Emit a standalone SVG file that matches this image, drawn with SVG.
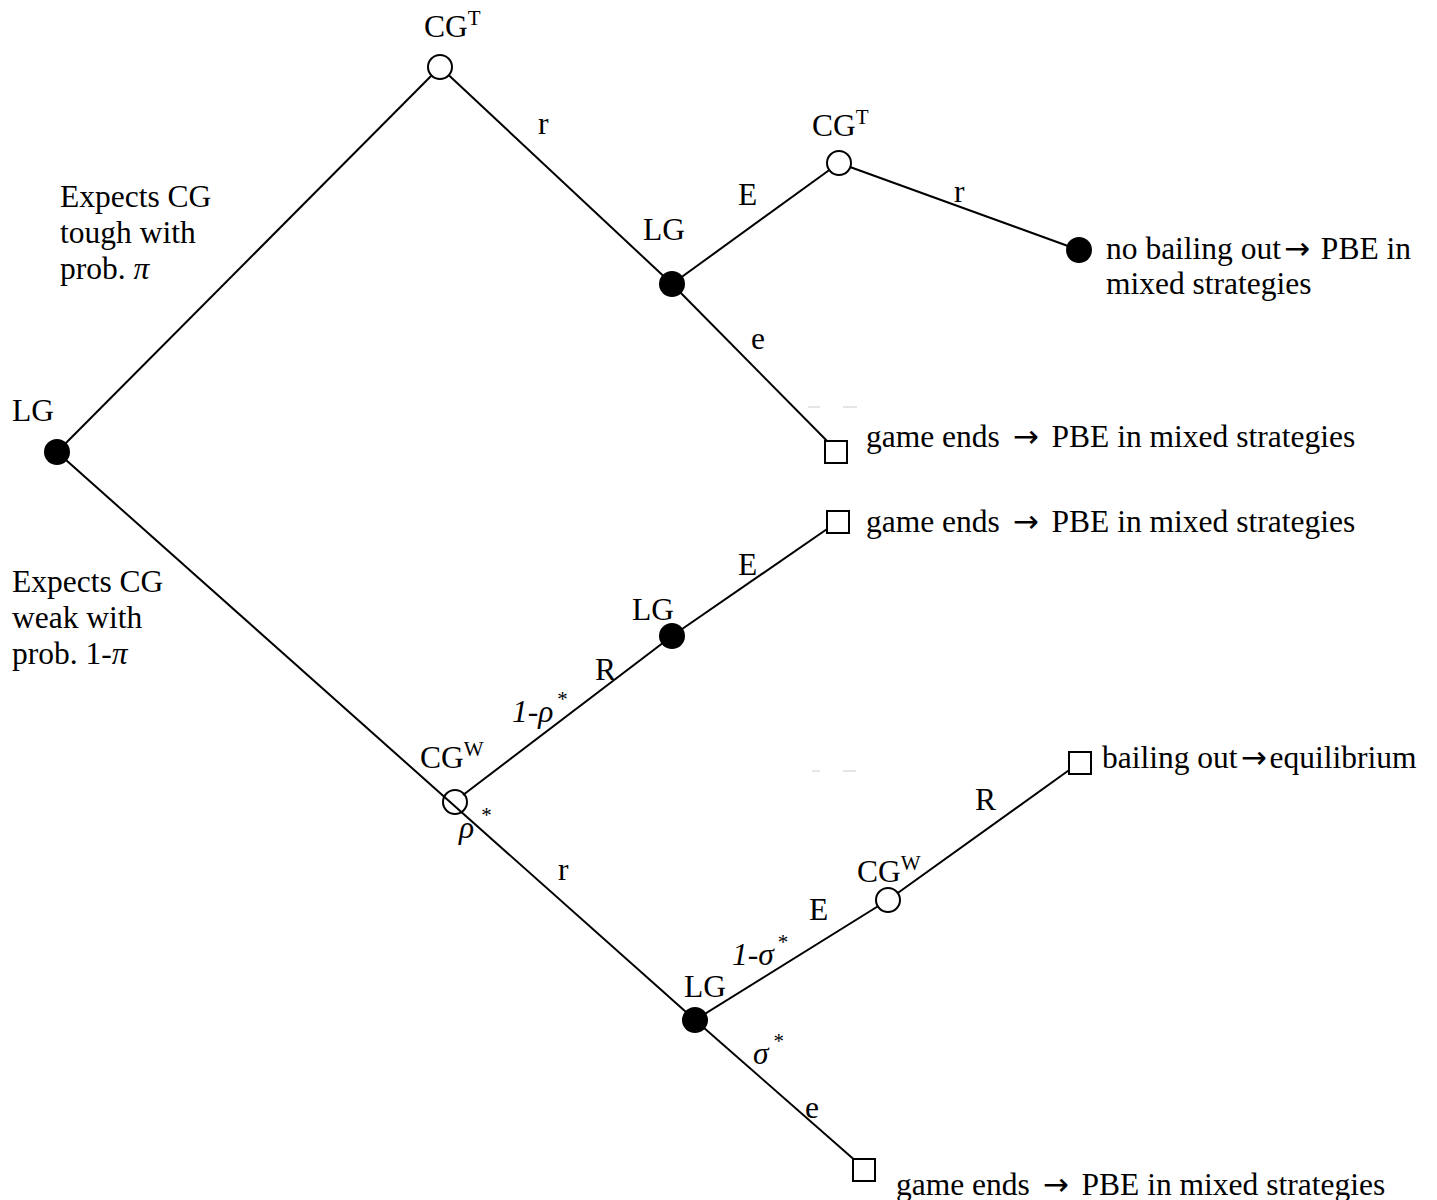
<svg xmlns="http://www.w3.org/2000/svg" width="1437" height="1200" viewBox="0 0 1437 1200">
<style>
text{font-family:"Liberation Serif","Times New Roman",serif;font-size:31.5px;fill:#000}
.sup{font-size:21px}
.it{font-style:italic}
.arr{font-family:"DejaVu Sans",sans-serif;font-size:31px}
.edge{stroke:#000;stroke-width:2;fill:none}
.open{fill:#fff;stroke:#000;stroke-width:2}
.filled{fill:#000}
.term{fill:#fff;stroke:#000;stroke-width:2}
.faint{stroke:#e6e6e6;stroke-width:2}
</style>
<rect width="1437" height="1200" fill="#fff"/>
<g id="connectors">
<line class="edge" x1="57" y1="452" x2="440" y2="67"/>
<line class="edge" x1="440" y1="67" x2="672" y2="284"/>
<line class="edge" x1="672" y1="284" x2="839" y2="163"/>
<line class="edge" x1="839" y1="163" x2="1079" y2="250"/>
<line class="edge" x1="672" y1="284" x2="832" y2="446"/>
<line class="edge" x1="57" y1="452" x2="695" y2="1020"/>
<line class="edge" x1="463" y1="795" x2="672" y2="636"/>
<line class="edge" x1="672" y1="636" x2="830" y2="527"/>
<line class="edge" x1="695" y1="1020" x2="888" y2="900"/>
<line class="edge" x1="888" y1="900" x2="1072" y2="768"/>
<line class="edge" x1="695" y1="1020" x2="858" y2="1163"/>
<line class="faint" x1="808" y1="407" x2="820" y2="407"/>
<line class="faint" x1="843" y1="407" x2="857" y2="407"/>
<line class="faint" x1="812" y1="771" x2="820" y2="771"/>
<line class="faint" x1="843" y1="771" x2="856" y2="771"/>
</g>
<g id="edge-labels">
<text x="538" y="134">r</text>
<text x="738" y="205">E</text>
<text x="954" y="202">r</text>
<text x="751" y="349">e</text>
<text x="738" y="575">E</text>
<text x="595" y="680">R</text>
<text x="512" y="722" class="it">1-ρ<tspan class="sup" dx="3" dy="-16">*</tspan></text>
<text x="459" y="838" class="it">ρ<tspan class="sup" dx="6" dy="-16">*</tspan></text>
<text x="558" y="880">r</text>
<text x="732" y="965" class="it">1-σ<tspan class="sup" dx="3" dy="-16">*</tspan></text>
<text x="809" y="920">E</text>
<text x="975" y="810">R</text>
<text x="753" y="1064" class="it">σ<tspan class="sup" dx="4" dy="-16">*</tspan></text>
<text x="805" y="1118">e</text>
</g>
<g id="belief-labels">
<text x="60" y="207">Expects CG</text>
<text x="60" y="243">tough with</text>
<text x="60" y="279">prob. <tspan class="it">π</tspan></text>
<text x="12" y="592">Expects CG</text>
<text x="12" y="628">weak with</text>
<text x="12" y="664">prob. 1-<tspan class="it">π</tspan></text>
</g>
<g id="node-root">
<circle class="filled" cx="57" cy="452" r="13"/>
<text x="12" y="421">LG</text>
</g>
<g id="node-cgt1">
<circle class="open" cx="440" cy="67" r="12"/>
<text x="424" y="37">CG<tspan class="sup" dy="-12">T</tspan></text>
</g>
<g id="node-lg1">
<circle class="filled" cx="672" cy="284" r="13"/>
<text x="643" y="240">LG</text>
</g>
<g id="node-cgt2">
<circle class="open" cx="839" cy="163" r="12"/>
<text x="812" y="136">CG<tspan class="sup" dy="-12">T</tspan></text>
</g>
<g id="node-end1">
<circle class="filled" cx="1079" cy="250" r="13"/>
<text x="1106" y="259">no bailing out<tspan class="arr" dx="3">→</tspan><tspan dx="3"> PBE in</tspan></text>
<text x="1106" y="294">mixed strategies</text>
</g>
<g id="node-end2">
<rect class="term" x="825" y="441" width="22" height="22"/>
<text x="866" y="447">game ends <tspan class="arr" dx="5">→</tspan><tspan dx="5"> PBE in mixed strategies</tspan></text>
</g>
<g id="node-cgw1">
<circle cx="455" cy="802" r="12" fill="none" stroke="#000" stroke-width="2"/>
<text x="420" y="768">CG<tspan class="sup" dy="-12">W</tspan></text>
</g>
<g id="node-lg2">
<circle class="filled" cx="672" cy="636" r="13"/>
<text x="632" y="620">LG</text>
</g>
<g id="node-end3">
<rect class="term" x="827" y="511" width="22" height="22"/>
<text x="866" y="532">game ends <tspan class="arr" dx="5">→</tspan><tspan dx="5"> PBE in mixed strategies</tspan></text>
</g>
<g id="node-lg3">
<circle class="filled" cx="695" cy="1020" r="13"/>
<text x="684" y="997">LG</text>
</g>
<g id="node-cgw2">
<circle class="open" cx="888" cy="900" r="12"/>
<text x="857" y="882">CG<tspan class="sup" dy="-12">W</tspan></text>
</g>
<g id="node-end4">
<rect class="term" x="1069" y="752" width="22" height="22"/>
<text x="1102" y="768">bailing out<tspan class="arr" dx="3">→</tspan><tspan dx="3">equilibrium</tspan></text>
</g>
<g id="node-end5">
<rect class="term" x="853" y="1159" width="22" height="22"/>
<text x="896" y="1195">game ends <tspan class="arr" dx="5">→</tspan><tspan dx="5"> PBE in mixed strategies</tspan></text>
</g>
</svg>
